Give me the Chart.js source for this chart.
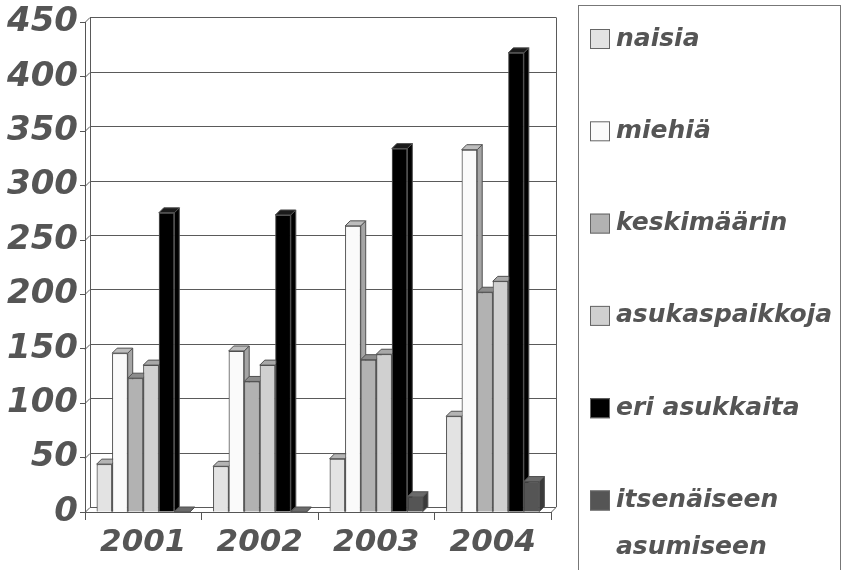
<!DOCTYPE html>
<html>
<head>
<meta charset="utf-8">
<script src="https://cdn.jsdelivr.net/npm/chart.js@4/dist/chart.umd.min.js"></script>
<style>
  html, body { margin: 0; padding: 0; background: #fff; }
  canvas { display: block; }
</style>
</head>
<body>
<canvas id="myChart" width="842" height="570"></canvas>
<script>
// data
const categories = ["2001", "2002", "2003", "2004"];
const naisia = [44, 42, 49, 88];
const miehia = [146, 148, 263, 333];
const keskimaarin = [123, 120, 140, 202];
const asukaspaikkoja = [135, 135, 145, 212];
const eriAsukkaita = [275, 273, 334, 422];
const itsenaiseen = [0, 0, 14, 28];
const seriesNames = ["naisia", "miehiä", "keskimäärin", "asukaspaikkoja", "eri asukkaita", ["itsenäiseen", "asumiseen"]];
const yMin = 0, yMax = 450, yStep = 50;

const fills = ["#e3e3e3", "#fafafa", "#b2b2b2", "#d0d0d0", "#000000", "#555555"];
const tops = ["#b4b4b4", "#bdbdbd", "#8c8c8c", "#a8a8a8", "#1a1a1a", "#6a6a6a"];
const sides = ["#9a9a9a", "#a5a5a5", "#777777", "#909090", "#000000", "#3a3a3a"];
const seriesValues = [naisia, miehia, keskimaarin, asukaspaikkoja, eriAsukkaita, itsenaiseen];

const depth = 5;
const textGray = "#555555";
const font = "'DejaVu Sans', sans-serif";

function line(ctx, x1, y1, x2, y2) {
  ctx.beginPath(); ctx.moveTo(x1, y1); ctx.lineTo(x2, y2); ctx.stroke();
}
function poly(ctx, pts, fill) {
  ctx.beginPath();
  ctx.moveTo(pts[0][0], pts[0][1]);
  for (let i = 1; i < pts.length; i++) ctx.lineTo(pts[i][0], pts[i][1]);
  ctx.closePath();
  ctx.fillStyle = fill; ctx.fill();
  ctx.stroke();
}

const threeD = {
  id: "threeD",
  beforeDatasetsDraw(chart) {
    const ctx = chart.ctx, a = chart.chartArea, y = chart.scales.y;
    ctx.save();
    ctx.strokeStyle = "#5a5a5a"; ctx.lineWidth = 1;
    y.ticks.forEach(t => {
      const py = Math.round(y.getPixelForValue(t.value)) + 0.5;
      line(ctx, a.left, py, a.left + depth, py - depth);
      line(ctx, a.left + depth, py - depth, a.right + depth, py - depth);
    });
    line(ctx, a.left + depth + 0.5, a.top - depth, a.left + depth + 0.5, a.bottom - depth);
    line(ctx, a.right + depth + 0.5, a.top - depth, a.right + depth + 0.5, a.bottom - depth);
    line(ctx, a.right, a.bottom + 0.5, a.right + depth, a.bottom - depth + 0.5);
    ctx.restore();
  },
  // repaint the bars left to right so each one covers the side of the one before
  afterDatasetsDraw(chart) {
    const ctx = chart.ctx;
    ctx.save();
    for (let c = 0; c < categories.length; c++) {
      for (let i = 0; i < seriesValues.length; i++) {
        const bar = chart.getDatasetMeta(i).data[c];
        bar.draw(ctx, chart.chartArea);
        const p = bar.getProps(["x", "y", "base", "width"], true);
        const l = p.x - p.width / 2, r = p.x + p.width / 2;
        ctx.strokeStyle = "#505050"; ctx.lineWidth = 1;
        poly(ctx, [[r, p.y], [r + depth, p.y - depth], [r + depth, p.base - depth], [r, p.base]], sides[i]);
        poly(ctx, [[l, p.y], [l + depth, p.y - depth], [r + depth, p.y - depth], [r, p.y]], tops[i]);
      }
    }
    ctx.restore();
  },
  afterDraw(chart) {
    const ctx = chart.ctx;
    ctx.save();
    ctx.strokeStyle = "#777"; ctx.lineWidth = 1;
    ctx.strokeRect(578.5, 5.5, 262, 580);
    ctx.font = "italic bold 25px " + font;
    ctx.textBaseline = "middle";
    seriesNames.forEach((name, k) => {
      const cy = 39 + k * 92.3;
      ctx.fillStyle = fills[k];
      ctx.strokeStyle = "#666";
      ctx.fillRect(590, cy - 10, 20, 20);
      ctx.strokeRect(590.5, cy - 9.5, 19, 19);
      ctx.fillStyle = textGray;
      const lines = Array.isArray(name) ? name : [name];
      lines.forEach((s, j) => ctx.fillText(s, 616, cy + j * 47));
    });
    ctx.restore();
  }
};

new Chart("myChart", {
  type: "bar",
  data: {
    labels: categories,
    datasets: seriesValues.map((vals, i) => ({
      label: Array.isArray(seriesNames[i]) ? seriesNames[i].join(" ") : seriesNames[i],
      data: vals,
      backgroundColor: fills[i],
      borderColor: "#505050",
      borderWidth: 1,
      categoryPercentage: 0.8,
      barPercentage: 1
    }))
  },
  options: {
    responsive: false,
    animation: false,
    devicePixelRatio: 1,
    layout: { padding: { top: 21, right: 291, left: 0, bottom: 0 } },
    plugins: { legend: { display: false }, tooltip: { enabled: false } },
    scales: {
      x: {
        grid: { drawOnChartArea: false, tickLength: 8, color: "#555" },
        border: { color: "#555" },
        ticks: { color: textGray, font: { family: font, size: 31, style: "italic", weight: "bold" }, padding: 4 },
        afterFit(s) { s.height = 58; }
      },
      y: {
        min: yMin, max: yMax,
        grid: { drawOnChartArea: false, tickLength: 5, color: "#555" },
        border: { color: "#555" },
        ticks: { stepSize: yStep, color: textGray, font: { family: font, size: 34, style: "italic", weight: "bold" }, padding: 2 },
        afterFit(s) { s.width = 85; }
      }
    }
  },
  plugins: [threeD]
});
</script>
</body>
</html>
